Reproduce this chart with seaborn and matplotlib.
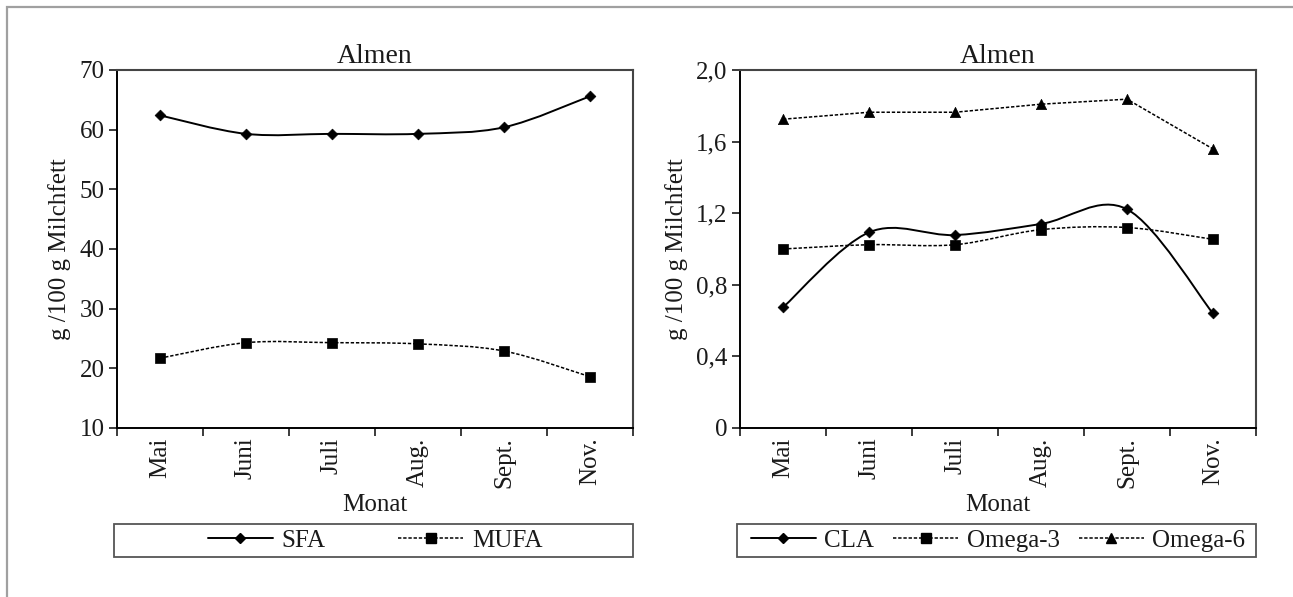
import numpy as np
import pandas as pd
import matplotlib
matplotlib.use('Agg')
import matplotlib.pyplot as plt
from matplotlib.path import Path
from matplotlib.patches import PathPatch, Rectangle
from matplotlib.lines import Line2D
import seaborn as sns

# ── Data ───────────────────────────────────────────────────────────────────────
months = ["Mai", "Juni", "Juli", "Aug.", "Sept.", "Nov."]

sfa = [62.4, 59.3, 59.3, 59.3, 60.4, 65.6]
mufa = [21.7, 24.3, 24.3, 24.1, 22.9, 18.6]

cla = [0.674, 1.093, 1.078, 1.140, 1.222, 0.640]
omega3 = [1.000, 1.024, 1.024, 1.108, 1.120, 1.054]
omega6 = [1.725, 1.764, 1.764, 1.809, 1.837, 1.559]

left_yticks = [10, 20, 30, 40, 50, 60, 70]
right_yticks = [0, 0.4, 0.8, 1.2, 1.6, 2.0]
right_yticklabels = ["0", "0,4", "0,8", "1,2", "1,6", "2,0"]

title = "Almen"
ylabel = "g /100 g Milchfett"
xlabel = "Monat"

# ── Style ──────────────────────────────────────────────────────────────────────
sns.set_style("ticks")
plt.rcParams['font.family'] = ['Liberation Serif', 'DejaVu Serif']
plt.rcParams['font.size'] = 18
plt.rcParams['text.color'] = '#1a1a1a'
plt.rcParams['axes.labelcolor'] = '#1a1a1a'
plt.rcParams['xtick.color'] = '#1a1a1a'
plt.rcParams['ytick.color'] = '#1a1a1a'

DOT = (0, (2.2, 1.2))
xpos = np.arange(len(months)) + 0.5


def smooth_path(ax, x, y, ls='-', lw=1.3):
    # Excel-style smoothed line: cubic Bezier through each data point
    pts = np.column_stack([x, y]).astype(float)
    ext = np.vstack([pts[0], pts, pts[-1]])
    verts = [tuple(pts[0])]
    codes = [Path.MOVETO]
    for i in range(len(pts) - 1):
        p0, p1, p2, p3 = ext[i], ext[i + 1], ext[i + 2], ext[i + 3]
        c1 = p1 + (p2 - p0) / 6.0
        c2 = p2 - (p3 - p1) / 6.0
        verts += [tuple(c1), tuple(c2), tuple(p2)]
        codes += [Path.CURVE4] * 3
    patch = PathPatch(Path(verts, codes), facecolor='none', edgecolor='black',
                      lw=lw, linestyle=ls, transform=ax.transData, zorder=2)
    ax.add_patch(patch)


def style_axes(ax, ylim, yticks, yticklabels=None):
    ax.set_xlim(0, len(months))
    ax.set_ylim(*ylim)
    ax.set_xticks(xpos)
    ax.set_xticklabels(months, rotation=90)
    ax.set_xticks(np.arange(len(months) + 1), minor=True)
    ax.tick_params(axis='x', which='major', length=0, pad=7)
    ax.tick_params(axis='x', which='minor', length=6, width=1.2, direction='out')
    ax.set_yticks(yticks)
    if yticklabels is not None:
        ax.set_yticklabels(yticklabels)
    ax.tick_params(axis='y', length=6, width=1.2, direction='out', pad=3)
    for side in ['left', 'bottom']:
        ax.spines[side].set_color('black')
        ax.spines[side].set_linewidth(1.4)
    for side in ['top', 'right']:
        ax.spines[side].set_visible(True)
        ax.spines[side].set_color('#444444')
        ax.spines[side].set_linewidth(1.5)
    ax.set_title(title, fontsize=20, pad=5)
    ax.set_xlabel(xlabel, labelpad=4)
    ax.set_ylabel(ylabel, labelpad=6)
    ax.grid(False)


def legend_box(ax, handles, labels, colspacing):
    box = Rectangle((-0.006, -0.360), 1.006, 0.092, transform=ax.transAxes,
                    facecolor='white', edgecolor='#555555', lw=1.3, clip_on=False)
    ax.add_patch(box)
    ax.legend(handles, labels, loc='center', bbox_to_anchor=(0.5, -0.314),
              ncol=len(handles), frameon=False, handlelength=2.6,
              handletextpad=0.35, columnspacing=colspacing, fontsize=18,
              borderpad=0.1)


fig = plt.figure(figsize=(12.93, 5.97), dpi=100)
ax1 = fig.add_axes([117 / 1293, 1 - 428 / 597, 516 / 1293, 358 / 597])
ax2 = fig.add_axes([740 / 1293, 1 - 428 / 597, 516 / 1293, 358 / 597])

# outer frame
fig.patches.append(Rectangle((7 / 1293, -0.1), 1.2, 1.1 - 7 / 597,
                             transform=fig.transFigure, facecolor='none',
                             edgecolor='#a0a0a0', lw=1.6))

# ── Left panel: SFA / MUFA ────────────────────────────────────────────────────
left_df = pd.DataFrame({'x': np.tile(xpos, 2),
                        'y': sfa + mufa,
                        'serie': ['SFA'] * 6 + ['MUFA'] * 6})
smooth_path(ax1, xpos, sfa, ls='-', lw=1.4)
smooth_path(ax1, xpos, mufa, ls=DOT, lw=1.1)
sns.scatterplot(data=left_df[left_df.serie == 'SFA'], x='x', y='y', marker='D',
                s=30, color='black', edgecolor='black', linewidth=0.5, ax=ax1,
                zorder=3, legend=False)
sns.scatterplot(data=left_df[left_df.serie == 'MUFA'], x='x', y='y', marker='s',
                s=60, color='black', edgecolor='black', linewidth=0.5, ax=ax1,
                zorder=3, legend=False)
style_axes(ax1, (10, 70), left_yticks)

h_sfa = Line2D([], [], color='black', lw=1.4, marker='D', ms=5.5)
h_mufa = Line2D([], [], color='black', lw=1.1, ls=DOT, marker='s', ms=7.5)
legend_box(ax1, [h_sfa, h_mufa], ['SFA', 'MUFA'], 2.9)

# ── Right panel: CLA / Omega-3 / Omega-6 ──────────────────────────────────────
smooth_path(ax2, xpos, cla, ls='-', lw=1.4)
smooth_path(ax2, xpos, omega3, ls=DOT, lw=1.1)
sns.lineplot(x=xpos, y=omega6, color='black', lw=1.1, linestyle=DOT, ax=ax2,
             zorder=2)
sns.scatterplot(x=xpos, y=cla, marker='D', s=30, color='black',
                edgecolor='black', linewidth=0.5, ax=ax2, zorder=3)
sns.scatterplot(x=xpos, y=omega3, marker='s', s=60, color='black',
                edgecolor='black', linewidth=0.5, ax=ax2, zorder=3)
sns.scatterplot(x=xpos, y=omega6, marker='^', s=55, color='black',
                edgecolor='black', linewidth=0.5, ax=ax2, zorder=3)
style_axes(ax2, (0, 2.0), right_yticks, right_yticklabels)

h_cla = Line2D([], [], color='black', lw=1.4, marker='D', ms=5.5)
h_o3 = Line2D([], [], color='black', lw=1.1, ls=DOT, marker='s', ms=7.5)
h_o6 = Line2D([], [], color='black', lw=1.1, ls=DOT, marker='^', ms=7.5)
legend_box(ax2, [h_cla, h_o3, h_o6], ['CLA', 'Omega-3', 'Omega-6'], 0.75)

fig.savefig('out.png', dpi=100)
